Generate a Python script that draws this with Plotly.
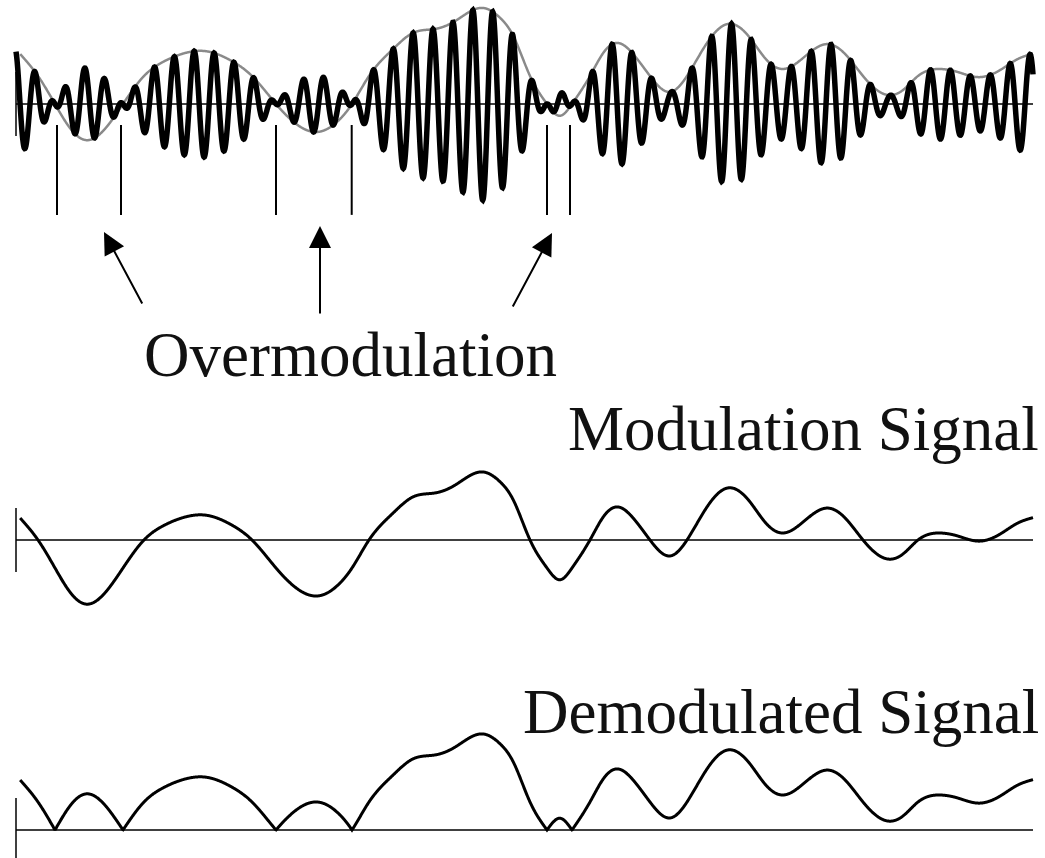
import numpy as np
import plotly.graph_objects as go

# ---- data (time in ms, signal in units of carrier amplitude) ----
t_mod = [0.04, 0.22, 0.39, 0.54, 0.70, 0.84, 1.07, 1.28, 1.49, 1.69, 1.89, 2.14, 2.36,
         2.60, 2.79, 3.01, 3.21, 3.36, 3.53, 3.77, 3.97, 4.19, 4.39, 4.67, 4.84, 4.97,
         5.14, 5.31, 5.44, 5.56, 5.74, 5.88, 6.02, 6.17, 6.34, 6.54, 6.71, 6.89,
         7.12, 7.34, 7.49, 7.66, 7.87, 8.11, 8.29, 8.47, 8.72, 8.87, 9.02, 9.24, 9.42,
         9.62, 9.84, 10.02, 10.16]
m_mod = [0.79, 0.00, -1.00, -1.86, -2.29, -2.07, -1.00, 0.00, 0.54, 0.82, 0.89, 0.57, 0.00,
         -1.00, -1.68, -2.00, -1.64, -1.00, 0.00, 0.96, 1.54, 1.68, 1.96, 2.43, 2.08, 1.45,
         0.00, -1.00, -1.42, -1.00, 0.00, 0.86, 1.18, 0.79, 0.00, -0.57, 0.00, 1.07,
         1.86, 1.36, 0.64, 0.25, 0.64, 1.14, 0.79, 0.00, -0.68, -0.50, 0.00, 0.25, 0.14,
         -0.04, 0.21, 0.61, 0.79]
carrier_freq_khz = 5.025        # carrier frequency
carrier_peak_ms = 3.573         # time of a positive carrier crest
overmod_edges = [0.41, 1.05, 2.60, 3.357, 5.31, 5.54]   # where 1 + m(t) crosses zero
arrow_tips = [0.88, 3.04, 5.36]
labels = ["Overmodulation", "Modulation Signal", "Demodulated Signal"]


def natural_cubic(x, y, xq):
    x = np.asarray(x, float); y = np.asarray(y, float)
    n = len(x); h = np.diff(x)
    A = np.zeros((n, n)); b = np.zeros(n)
    A[0, 0] = A[-1, -1] = 1.0
    for i in range(1, n - 1):
        A[i, i - 1] = h[i - 1]; A[i, i] = 2 * (h[i - 1] + h[i]); A[i, i + 1] = h[i]
        b[i] = 3 * ((y[i + 1] - y[i]) / h[i] - (y[i] - y[i - 1]) / h[i - 1])
    c = np.linalg.solve(A, b)
    bb = (y[1:] - y[:-1]) / h - h * (2 * c[:-1] + c[1:]) / 3
    d = (c[1:] - c[:-1]) / (3 * h)
    idx = np.clip(np.searchsorted(x, xq) - 1, 0, n - 2)
    dx = xq - x[idx]
    return y[idx] + bb[idx] * dx + c[idx] * dx ** 2 + d[idx] * dx ** 3


t_dense = np.arange(0.0, t_mod[-1] + 0.012, 0.003)
m_dense = natural_cubic(t_mod, m_mod, t_dense)
envelope = 1.0 + m_dense
am_signal = envelope * np.cos(2 * np.pi * carrier_freq_khz * (t_dense - carrier_peak_ms))
demod = np.abs(envelope)
sig_mask = t_dense >= t_mod[0]

fig = go.Figure()
fig.add_trace(go.Scatter(x=t_dense[sig_mask], y=envelope[sig_mask], mode="lines",
                         line=dict(color="#8a8a8a", width=2.5, simplify=False), yaxis="y"))
fig.add_trace(go.Scatter(x=t_dense, y=am_signal, mode="lines",
                         line=dict(color="black", width=5.5, simplify=False), yaxis="y"))
fig.add_trace(go.Scatter(x=t_dense[sig_mask], y=m_dense[sig_mask], mode="lines",
                         line=dict(color="black", width=3, simplify=False), yaxis="y2"))
fig.add_trace(go.Scatter(x=t_dense[sig_mask], y=demod[sig_mask], mode="lines",
                         line=dict(color="black", width=3, simplify=False), yaxis="y3"))

shapes = []
t_end = t_mod[-1] + 0.01
for yr, lo, hi in (("y", -1.14, 1.14), ("y2", -1.14, 1.14), ("y3", -1.0, 1.14)):
    shapes.append(dict(type="line", xref="x", yref=yr, x0=0, x1=t_end, y0=0, y1=0,
                       line=dict(color="black", width=1.5)))
    shapes.append(dict(type="line", xref="x", yref=yr, x0=0, x1=0, y0=lo, y1=hi,
                       line=dict(color="black", width=1.5)))
for te in overmod_edges:
    shapes.append(dict(type="line", xref="x", yref="y", x0=te, x1=te, y0=-0.75, y1=-3.96,
                       line=dict(color="black", width=2)))

annotations = []
tails = [(39, 73), (0, 89), (-40, 75)]
tip_y = [0.7296, 0.7366, 0.7284]
for tx, ty, (ax, ay) in zip(arrow_tips, tip_y, tails):
    annotations.append(dict(x=tx, y=ty, xref="x", yref="paper", ax=ax, ay=ay,
                            axref="pixel", ayref="pixel", text="", showarrow=True,
                            arrowhead=2, arrowsize=2.2, arrowwidth=2, arrowcolor="black"))
font = dict(family="Liberation Serif, Times New Roman, serif", size=63, color="#111111")
annotations.append(dict(x=350 / 1045, y=1 - 355 / 858, xref="paper", yref="paper",
                        text=labels[0], showarrow=False, font=font,
                        xanchor="center", yanchor="middle"))
annotations.append(dict(x=1041 / 1045, y=1 - 429 / 858, xref="paper", yref="paper",
                        text=labels[1], showarrow=False, font=font,
                        xanchor="right", yanchor="middle"))
annotations.append(dict(x=1041 / 1045, y=1 - 712 / 858, xref="paper", yref="paper",
                        text=labels[2], showarrow=False, font=font,
                        xanchor="right", yanchor="middle"))

hidden = dict(visible=False, showgrid=False, zeroline=False, fixedrange=True)
fig.update_layout(
    width=1045, height=858, margin=dict(l=0, r=0, t=0, b=0),
    paper_bgcolor="white", plot_bgcolor="rgba(0,0,0,0)", showlegend=False,
    xaxis=dict(range=[-0.16, 10.29], **hidden),
    yaxis=dict(domain=[1 - 230 / 858, 1], range=[-4.5, 104 / 28], **hidden),
    yaxis2=dict(domain=[1 - 620 / 858, 1 - 460 / 858], range=[-80 / 28, 80 / 28],
                anchor="x", **hidden),
    yaxis3=dict(domain=[0, 1 - 720 / 858], range=[-1.0, 110 / 28], anchor="x", **hidden),
    shapes=shapes, annotations=annotations,
)
fig.write_html("out.html", config={"displayModeBar": False, "staticPlot": True},
               post_script="document.body.style.margin='0px';document.body.style.overflow='hidden';")
